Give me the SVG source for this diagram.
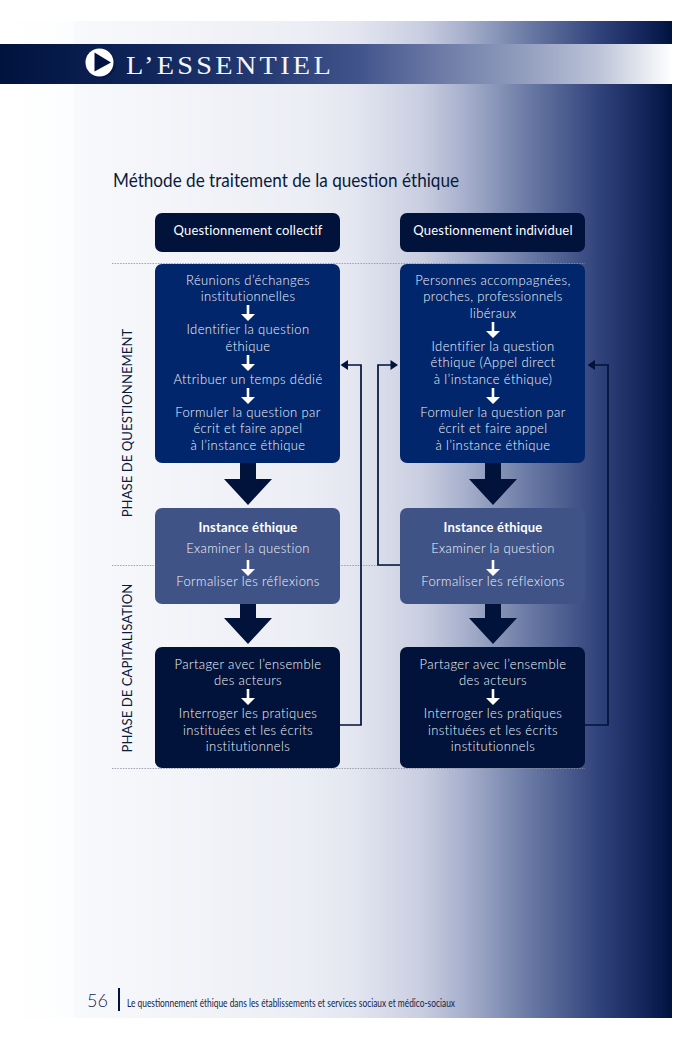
<svg xmlns="http://www.w3.org/2000/svg" width="693" height="1039" viewBox="0 0 693 1039">
<style>
text{font-family:"Lato","Open Sans",sans-serif}
.b{font-size:13px;fill:#f2f5fc;text-anchor:middle;letter-spacing:.38px;font-weight:300}
.h{font-size:13px;fill:#fff;text-anchor:middle;letter-spacing:.2px}
.s{font-size:13px;fill:#fff;text-anchor:middle;font-weight:700;letter-spacing:.2px}
.p{font-size:13.200px;fill:#0a1a3c;text-anchor:middle}
.dk{fill:#01133a}.bl{fill:#02266b}.md{fill:#3f5387}
.wa{fill:#fff}
.conn{fill:none;stroke:#01133a;stroke-width:1.700}
.ph{stroke:#8b8f9c;stroke-width:.8;stroke-dasharray:1.500 1.200}
</style>
<defs>
<linearGradient id="pg" gradientUnits="userSpaceOnUse" x1="0" y1="0" x2="672" y2="0">
<stop offset="0" stop-color="#fff"/><stop offset=".108" stop-color="#fcfdfe"/><stop offset=".112" stop-color="#f8f9fc"/><stop offset=".3" stop-color="#f1f3f8"/><stop offset=".45" stop-color="#eceef5"/><stop offset=".53" stop-color="#e3e6f0"/><stop offset=".63" stop-color="#c8cde0"/><stop offset=".695" stop-color="#a5aecb"/><stop offset=".79" stop-color="#6878a3"/><stop offset=".89" stop-color="#31437b"/><stop offset=".96" stop-color="#122459"/><stop offset="1" stop-color="#00133f"/>
</linearGradient>
<linearGradient id="bd" gradientUnits="userSpaceOnUse" x1="0" y1="0" x2="672" y2="0">
<stop offset="0" stop-color="#00133f"/><stop offset=".2" stop-color="#0e2357"/><stop offset=".38" stop-color="#243970"/><stop offset=".53" stop-color="#40538a"/><stop offset=".66" stop-color="#6e7ca7"/><stop offset=".79" stop-color="#96a1c0"/><stop offset=".89" stop-color="#bcc3d8"/><stop offset="1" stop-color="#fff"/>
</linearGradient>
<path id="wa" class="wa" d="M-1.300-10H1.300V-1H7L0 6-7-1H-1.300z"/>
<path id="ba" class="dk" d="M-8-3H8V16H24L0 42-24 16H-8z"/>
</defs>
<rect x="0" y="21" width="672" height="997" fill="url(#pg)"/>
<g id="header">
<rect x="0" y="44" width="672" height="40" fill="url(#bd)"/>
<circle cx="101" cy="64" r="14.500" fill="#00133f" opacity=".55"/>
<circle cx="99.500" cy="62.500" r="14" fill="#fff"/>
<path d="M94.500 52.500 111 62.500 94.500 71.500z" fill="#00133f"/>
<text x="126" y="74" font-size="26" fill="#f4f6fb" style="font-family:'Liberation Serif',serif;letter-spacing:3px" textLength="208" lengthAdjust="spacingAndGlyphs">L’ESSENTIEL</text>
</g>
<text id="title" x="113" y="187" font-size="19" fill="#0a1a3c" textLength="346" lengthAdjust="spacingAndGlyphs">Méthode de traitement de la question éthique</text>
<g id="phase-lines">
<line class="ph" x1="112" y1="263.500" x2="585" y2="263.500"/>
<line class="ph" x1="112" y1="565.500" x2="585" y2="565.500"/>
<line class="ph" x1="112" y1="768.500" x2="585" y2="768.500"/>
</g>
<text id="phase1" class="p" transform="translate(132 423) rotate(-90)">PHASE DE QUESTIONNEMENT</text>
<text id="phase2" class="p" transform="translate(132 668) rotate(-90)">PHASE DE CAPITALISATION</text>
<g id="connectors">
<path class="conn" d="M340 725H361V365H347"/>
<path d="M340.500 365 348 360V370z" class="dk"/>
<path class="conn" d="M401 565H378V365H391"/>
<path d="M398 365 390.500 360V370z" class="dk"/>
<path class="conn" d="M585 725H608V365H594"/>
<path d="M587.500 365 595 360V370z" class="dk"/>
<use href="#ba" x="248" y="463"/><use href="#ba" x="248" y="602"/>
<use href="#ba" x="493" y="463"/><use href="#ba" x="493" y="602"/>
</g>
<g id="hc"><rect class="dk" x="155" y="213" width="185" height="39" rx="7"/><text class="h" x="248" y="235">Questionnement collectif</text></g>
<g id="hi"><rect class="dk" x="400" y="213" width="185" height="39" rx="7"/><text class="h" x="493" y="235">Questionnement individuel</text></g>
<g id="qc"><rect class="bl" x="155" y="264" width="185" height="199" rx="7"/>
<text class="b" x="248" y="285">Réunions d’échanges</text><text class="b" x="248" y="301">institutionnelles</text>
<use href="#wa" x="248" y="315"/>
<text class="b" x="248" y="334">Identifier la question</text><text class="b" x="248" y="351">éthique</text>
<use href="#wa" x="248" y="365"/>
<text class="b" x="248" y="384">Attribuer un temps dédié</text>
<use href="#wa" x="248" y="398"/>
<text class="b" x="248" y="417">Formuler la question par</text><text class="b" x="248" y="433">écrit et faire appel</text><text class="b" x="248" y="450">à l’instance éthique</text></g>
<g id="qi"><rect class="bl" x="400" y="264" width="185" height="199" rx="7"/>
<text class="b" x="493" y="285">Personnes accompagnées,</text><text class="b" x="493" y="301">proches, professionnels</text><text class="b" x="493" y="318">libéraux</text>
<use href="#wa" x="493" y="332"/>
<text class="b" x="493" y="351">Identifier la question</text><text class="b" x="493" y="367">éthique (Appel direct</text><text class="b" x="493" y="384">à l’instance éthique)</text>
<use href="#wa" x="493" y="398"/>
<text class="b" x="493" y="417">Formuler la question par</text><text class="b" x="493" y="433">écrit et faire appel</text><text class="b" x="493" y="450">à l’instance éthique</text></g>
<g id="ic"><rect class="md" x="155" y="508" width="185" height="96" rx="7"/>
<text class="s" x="248" y="532">Instance éthique</text><text class="b" x="248" y="553">Examiner la question</text>
<use href="#wa" x="248" y="570"/><text class="b" x="248" y="586">Formaliser les réflexions</text></g>
<g id="ii"><rect class="md" x="400" y="508" width="185" height="96" rx="7"/>
<text class="s" x="493" y="532">Instance éthique</text><text class="b" x="493" y="553">Examiner la question</text>
<use href="#wa" x="493" y="570"/><text class="b" x="493" y="586">Formaliser les réflexions</text></g>
<g id="cc"><rect class="dk" x="155" y="647" width="185" height="121" rx="7"/>
<text class="b" x="248" y="669">Partager avec l’ensemble</text><text class="b" x="248" y="685">des acteurs</text>
<use href="#wa" x="248" y="699"/>
<text class="b" x="248" y="718">Interroger les pratiques</text><text class="b" x="248" y="735">instituées et les écrits</text><text class="b" x="248" y="751">institutionnels</text></g>
<g id="ci"><rect class="dk" x="400" y="647" width="185" height="121" rx="7"/>
<text class="b" x="493" y="669">Partager avec l’ensemble</text><text class="b" x="493" y="685">des acteurs</text>
<use href="#wa" x="493" y="699"/>
<text class="b" x="493" y="718">Interroger les pratiques</text><text class="b" x="493" y="735">instituées et les écrits</text><text class="b" x="493" y="751">institutionnels</text></g>
<g id="footer">
<text x="87" y="1007" font-size="18" font-weight="300" fill="#10245c">56</text>
<rect x="118" y="988" width="2" height="23" fill="#00133f"/>
<text x="127" y="1007" font-size="12" font-weight="400" fill="#14224a" textLength="328" lengthAdjust="spacingAndGlyphs">Le questionnement éthique dans les établissements et services sociaux et médico-sociaux</text>
</g>
</svg>
